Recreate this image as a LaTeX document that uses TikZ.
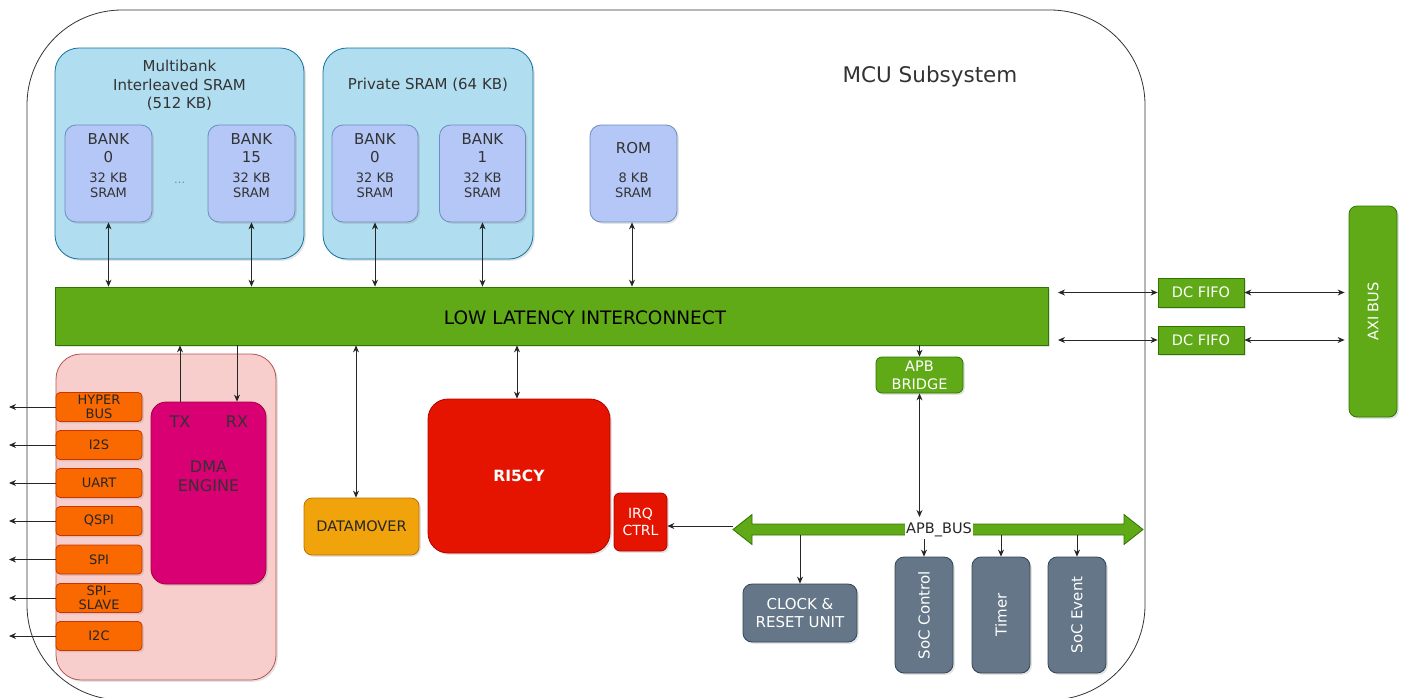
\documentclass[tikz,border=0pt]{standalone}
\usepackage{fontspec}
\setmainfont{DejaVu Sans}
\usetikzlibrary{arrows.meta,shadows}
\definecolor{bluebg}{HTML}{B1DDF0}
\definecolor{bluedr}{HTML}{10739E}
\definecolor{bankfill}{HTML}{B4C7F6}
\definecolor{bankdraw}{HTML}{6C8EBF}
\definecolor{grn}{HTML}{60A917}
\definecolor{grndr}{HTML}{2D7600}
\definecolor{pinkbg}{HTML}{F8CECC}
\definecolor{pinkdr}{HTML}{B85450}
\definecolor{mag}{HTML}{D80073}
\definecolor{magdr}{HTML}{A50040}
\definecolor{org}{HTML}{FA6800}
\definecolor{orgdr}{HTML}{C73500}
\definecolor{redf}{HTML}{E51400}
\definecolor{reddr}{HTML}{B20000}
\definecolor{amb}{HTML}{F0A30A}
\definecolor{ambdr}{HTML}{BD7000}
\definecolor{gry}{HTML}{647687}
\definecolor{grydr}{HTML}{314354}
\definecolor{txt}{HTML}{333333}
\newcommand\fsz[2]{\fontsize{#1}{#2}\selectfont}
\begin{document}
\begin{tikzpicture}[x=1pt,y=-1pt,
  shad/.style={drop shadow={shadow xshift=1.8pt,shadow yshift=-1.8pt,opacity=0.22}},
  blk/.style={inner sep=0pt,line width=0.8pt,align=center,shad,rounded corners=6pt},
  container/.style={blk,fill=bluebg,draw=bluedr,minimum width=#1,minimum height=211pt,rounded corners=24pt},
  bankbox/.style={blk,fill=bankfill,draw=bankdraw,minimum width=87pt,minimum height=97pt,rounded corners=11pt},
  banktxt/.style={align=center,text=txt,inner sep=0pt,font=\fsz{15}{18}},
  kbtxt/.style={align=center,text=txt,inner sep=0pt,font=\fsz{13}{15}},
  greenbox/.style={blk,fill=grn,draw=grndr,text=white,font=\fsz{14.5}{18}},
  periph/.style={blk,fill=org,draw=orgdr,minimum width=86pt,minimum height=29pt,text=black!85,font=\fsz{13}{15},rounded corners=4pt},
  greybox/.style={blk,fill=gry,draw=grydr,text=white,font=\fsz{15}{18},rounded corners=9pt},
  arr/.style={-{Stealth[length=7pt,width=6pt]},line width=0.8pt,draw=black!85},
  darr/.style={{Stealth[length=7pt,width=6pt]}-{Stealth[length=7pt,width=6pt]},line width=0.8pt,draw=black!85}]
\useasboundingbox (0,0) rectangle (1403,697);
% outer subsystem
\draw[line width=0.8pt,draw=black!80,rounded corners=95pt] (27,10) rectangle (1145,700);
\node[text=txt,font=\fsz{21.5}{25}] (mcu) at (930,77) {MCU Subsystem};

% memories
\node[container=249pt] (mbank) at (179.5,153.5) {};
\node[banktxt,font=\fsz{15}{18.5}] (mbanktxt) at (179.5,85.5) {Multibank\\Interleaved SRAM\\(512 KB)};
\node[container=210pt] (priv) at (428,153.5) {};
\node[banktxt] (privtxt) at (428,85) {Private SRAM (64 KB)};

\node[bankbox] (mb0) at (108.5,173.5) {};
\node[bankbox] (mb15) at (251.5,173.5) {};
\node[bankbox,minimum width=86pt] (pb0) at (375,173.5) {};
\node[bankbox,minimum width=86pt] (pb1) at (482.5,173.5) {};
\node[bankbox] (rom) at (633.5,173.5) {};
\node[text=black!50,font=\fsz{11}{12},inner sep=0pt] (dots) at (179.5,183) {\dots};

\node[banktxt] (mb0a) at (108.5,148) {BANK\\0};
\node[kbtxt] (mb0b) at (108.5,185.5) {32 KB\\SRAM};
\node[banktxt] (mb15a) at (251.5,148) {BANK\\15};
\node[kbtxt] (mb15b) at (251.5,185.5) {32 KB\\SRAM};
\node[banktxt] (pb0a) at (375,148) {BANK\\0};
\node[kbtxt] (pb0b) at (375,185.5) {32 KB\\SRAM};
\node[banktxt] (pb1a) at (482.5,148) {BANK\\1};
\node[kbtxt] (pb1b) at (482.5,185.5) {32 KB\\SRAM};
\node[banktxt] (roma) at (633.5,148) {ROM};
\node[kbtxt] (romb) at (633.5,185.5) {8 KB\\SRAM};

% interconnect
\node[blk,fill=grn,draw=grndr,minimum width=993pt,minimum height=58pt,rounded corners=0pt] (ic) at (551.5,316) {};
\node[text=black,font=\fsz{18.5}{22},inner sep=0pt] (ictxt) at (585,318) {LOW LATENCY INTERCONNECT};

\foreach \b in {mb0,mb15,pb0,pb1}{\draw[darr] (\b.south) -- (\b.south |- ic.north);}
\draw[darr] ([xshift=-1.5pt]rom.south) -- ([xshift=-1.5pt]rom.south |- ic.north);

% DC FIFOs and AXI
\node[greenbox,minimum width=86pt,minimum height=29pt,rounded corners=0pt] (fifo1) at (1201,292.5) {DC FIFO};
\node[greenbox,minimum width=86pt,minimum height=28pt,rounded corners=0pt] (fifo2) at (1201,340) {DC FIFO};
\node[greenbox,minimum width=48pt,minimum height=211pt,rounded corners=8pt] (axi) at (1373,311.5) {};
\node[text=white,font=\fsz{14.5}{18},rotate=90,inner sep=0pt] (axitxt) at (1373,311.5) {AXI BUS};
\coordinate (icr1) at (1058,292.5);
\coordinate (icr2) at (1058,340);
\draw[darr] (icr1) -- (fifo1.west);
\draw[darr] (icr2) -- (fifo2.west);
\draw[darr] (fifo1.east) -- ([xshift=-4pt]axi.west |- fifo1.east);
\draw[darr] (fifo2.east) -- ([xshift=-4pt]axi.west |- fifo2.east);

% APB bridge and bus
\node[greenbox,minimum width=87pt,minimum height=36pt] (bridge) at (919.5,375) {APB\\BRIDGE};
\draw[arr] (bridge.north |- ic.south) -- (bridge.north);
\draw[fill=grn,draw=grndr,line width=0.8pt] (733,529.5) -- (752,514.5) -- (752,524) -- (1124,524) -- (1124,514.5) -- (1143,529.5) -- (1124,544.5) -- (1124,535) -- (752,535) -- (752,544.5) -- cycle;
\coordinate (busl) at (733,526);
\coordinate (bustop) at (919.5,517);
\node[fill=white,inner xsep=1pt,inner ysep=1.5pt,text=black!85,font=\fsz{14.5}{17}] (apbbus) at (939,530) {APB\_BUS};
\draw[darr] (bridge.south) -- (bustop);

% CPU side
\node[blk,fill=redf,draw=reddr,minimum width=182pt,minimum height=154pt,rounded corners=20pt,text=white,font=\bfseries\fsz{15.5}{18}] (cpu) at (519,476) {RI5CY};
\draw[darr] ([xshift=-2pt]cpu.north) -- ([xshift=-2pt]cpu.north |- ic.south);
\node[blk,fill=redf,draw=reddr,minimum width=53pt,minimum height=58pt,text=white,font=\fsz{14}{17}] (irq) at (640.5,522) {IRQ\\CTRL};
\draw[arr] (busl) -- (irq.east |- busl);
\node[blk,fill=amb,draw=ambdr,minimum width=115pt,minimum height=57pt,text=black!85,font=\fsz{14.5}{17},rounded corners=8pt] (dm) at (361.5,526.5) {DATAMOVER};
\draw[darr] ([xshift=-5.5pt]dm.north) -- ([xshift=-5.5pt]dm.north |- ic.south);

% peripherals
\node[blk,fill=pinkbg,draw=pinkdr,minimum width=220pt,minimum height=326pt,rounded corners=25pt] (pbox) at (166,517) {};
\node[blk,fill=mag,draw=magdr,minimum width=115pt,minimum height=182pt,rounded corners=15pt] (dma) at (208.5,493) {};
\node[text=black!80,font=\fsz{16}{19},inner sep=0pt] (tx) at (180,422) {TX};
\node[text=black!80,font=\fsz{16}{19},inner sep=0pt] (rx) at (237,422) {RX};
\node[text=black!80,font=\fsz{16}{19},align=center,inner sep=0pt] (dmatxt) at (208.5,476) {DMA\\ENGINE};
\draw[arr] ([xshift=-28.5pt]dma.north) -- ([xshift=-28.5pt]dma.north |- ic.south);
\draw[arr] ([xshift=28.5pt]dma.north |- ic.south) -- ([xshift=28.5pt]dma.north);

\node[periph,font=\fsz{13}{14}] (hb) at (99,407) {HYPER\\BUS};
\node[periph] (i2s) at (99,445) {I2S};
\node[periph] (uart) at (99,483) {UART};
\node[periph] (qspi) at (99,521) {QSPI};
\node[periph] (spi) at (99,559.5) {SPI};
\node[periph,font=\fsz{13}{14}] (spis) at (99,598) {SPI-\\SLAVE};
\node[periph] (i2c) at (99,636) {I2C};
\foreach \p in {hb,i2s,uart,qspi,spi,spis,i2c}{
  \coordinate (\p out) at (9,0 |- \p.west);
  \draw[arr] (\p.west) -- (9,0 |- \p.west);
}

% APB peripherals
\node[greybox,minimum width=114pt,minimum height=58pt] (clk) at (800,613) {CLOCK \&\\RESET UNIT};
\node[greybox,minimum width=58pt,minimum height=116pt] (socc) at (924,615) {};
\node[greybox,minimum width=58pt,minimum height=116pt] (timer) at (1001,615) {};
\node[greybox,minimum width=58pt,minimum height=116pt] (soce) at (1077,615) {};
\node[text=white,font=\fsz{15}{18},rotate=90,inner sep=0pt] (socct) at (924,615) {SoC Control};
\node[text=white,font=\fsz{15}{18},rotate=90,inner sep=0pt] (timert) at (1001,615) {Timer};
\node[text=white,font=\fsz{15}{18},rotate=90,inner sep=0pt] (socet) at (1077,615) {SoC Event};
\draw[arr] (clk.north |- 0,535) -- (clk.north);
\draw[arr] (apbbus.south -| socc.north) -- (socc.north);
\draw[arr] (timer.north |- 0,535) -- (timer.north);
\draw[arr] (soce.north |- 0,535) -- (soce.north);
\end{tikzpicture}
\end{document}
